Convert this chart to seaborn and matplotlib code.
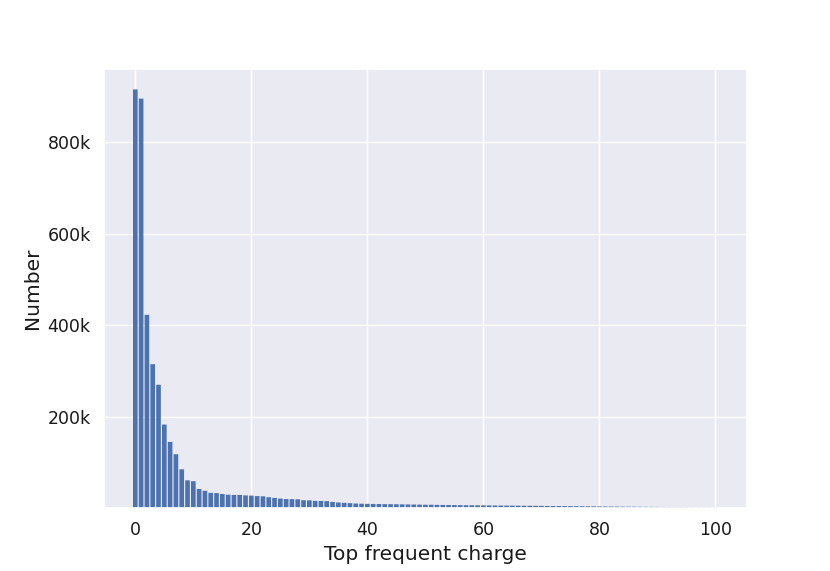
import numpy as np
import pandas as pd
import seaborn as sns
import matplotlib
matplotlib.use("Agg")
import matplotlib.pyplot as plt
import matplotlib.ticker as ticker

# Counts per charge value
charges = list(range(101))
counts = [
    916000, 896000, 423000, 315000, 270000, 183000, 145000, 118000, 85000, 61000,
    59000, 42000, 38000, 33500, 33000, 31000, 29500, 29000, 29000, 28000,
    27500, 26500, 26000, 24000, 22500, 21000, 20000, 19800, 19500, 17500,
    17200, 16000, 15800, 15500, 13800, 12400, 11700, 11000, 10200, 9800,
    9500, 9300, 9100, 8900, 8800, 8600, 8400, 8200, 8000, 7800,
    7600, 7500, 7300, 7100, 7000, 6800, 6700, 6500, 6400, 6300,
    6200, 6000, 5900, 5800, 5700, 5600, 5500, 5400, 5300, 5200,
    5100, 4900, 4800, 4700, 4600, 4500, 4400, 4200, 4100, 4000,
    3800, 3700, 3600, 3500, 3400, 3300, 3200, 3100, 3000, 2900,
    2800, 2700, 2600, 2500, 2400, 2300, 2200, 2100, 2000, 1900,
    1800,
]
y_ticks = [200000, 400000, 600000, 800000]

sns.set_theme(style="darkgrid")
plt.rcParams['font.family'] = ['DejaVu Sans']
df = pd.DataFrame({"charge": charges, "count": counts})

fig, ax = plt.subplots(figsize=(8.3, 5.71), dpi=100)
ax.bar(df["charge"], df["count"], width=0.8, color=sns.color_palette("deep")[0],
       linewidth=0, snap=False)

ax.set_yticks(y_ticks)
ax.yaxis.set_major_formatter(ticker.FuncFormatter(lambda v, p: f"{int(v / 1000)}k"))
ax.tick_params(labelsize=12.5, labelcolor="#1a1a1a")
ax.set_xlabel("Top frequent charge", fontsize=14.5, color="#1a1a1a")
ax.set_ylabel("Number", fontsize=14.5, color="#1a1a1a")

fig.savefig("out.png", dpi=100)
